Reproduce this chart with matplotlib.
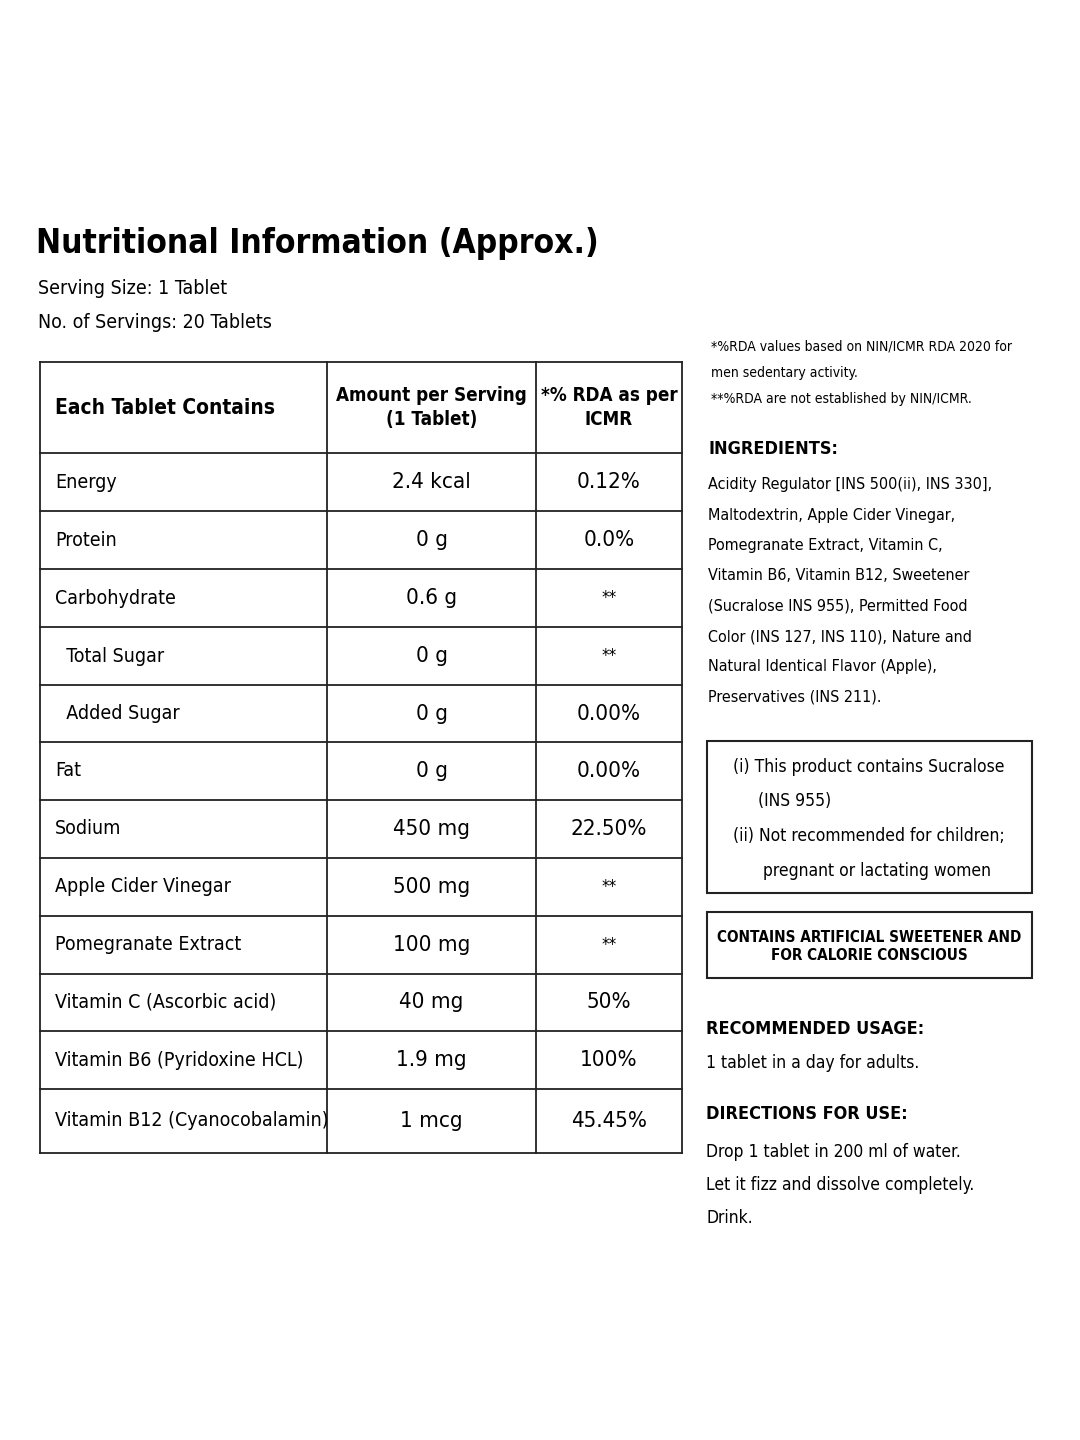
import matplotlib.pyplot as plt
from matplotlib import font_manager

# condensed DejaVu face if present, otherwise shrink a bit more
have_cond = any(f.name == 'DejaVu Sans' and f.stretch in ('condensed', 'semi-condensed', 600, 'semi-expanded') is False or
                ('Condensed' in f.fname and 'DejaVu' in f.fname) for f in font_manager.fontManager.ttflist)
K = 1.0 if have_cond else 0.9
plt.rcParams['font.family'] = ['DejaVu Sans']
plt.rcParams['font.stretch'] = 'condensed'

title = "Nutritional Information (Approx.)"
serving = ["Serving Size: 1 Tablet", "No. of Servings: 20 Tablets"]
headers = ["Each Tablet Contains", "Amount per Serving\n(1 Tablet)", "*% RDA as per\nICMR"]
nutrients = ["Energy", "Protein", "Carbohydrate", "  Total Sugar", "  Added Sugar", "Fat",
             "Sodium", "Apple Cider Vinegar", "Pomegranate Extract",
             "Vitamin C (Ascorbic acid)", "Vitamin B6 (Pyridoxine HCL)",
             "Vitamin B12 (Cyanocobalamin)"]
amounts = ["2.4 kcal", "0 g", "0.6 g", "0 g", "0 g", "0 g", "450 mg", "500 mg",
           "100 mg", "40 mg", "1.9 mg", "1 mcg"]
rda = ["0.12%", "0.0%", "**", "**", "0.00%", "0.00%", "22.50%", "**", "**",
       "50%", "100%", "45.45%"]
row_lines = [453, 511, 569, 627, 685, 742, 800, 858, 916, 974, 1031, 1089, 1153]

notes = ["*%RDA values based on NIN/ICMR RDA 2020 for", "men sedentary activity.",
         "**%RDA are not established by NIN/ICMR."]
ingredients = ["Acidity Regulator [INS 500(ii), INS 330],", "Maltodextrin, Apple Cider Vinegar,",
               "Pomegranate Extract, Vitamin C,", "Vitamin B6, Vitamin B12, Sweetener",
               "(Sucralose INS 955), Permitted Food", "Color (INS 127, INS 110), Nature and",
               "Natural Identical Flavor (Apple),", "Preservatives (INS 211)."]
warnings = ["(i) This product contains Sucralose", "     (INS 955)",
            "(ii) Not recommended for children;", "      pregnant or lactating women"]
directions = ["Drop 1 tablet in 200 ml of water.", "Let it fizz and dissolve completely.", "Drink."]

fig = plt.figure(figsize=(10.8, 14.4), dpi=100)
ax = fig.add_axes([0, 0, 1, 1])
ax.set_xlim(0, 1080)
ax.set_ylim(1440, 0)
ax.axis('off')

ax.text(36, 243, title, fontsize=24 * K, fontweight='bold', va='center')
ax.text(38, 288, serving[0], fontsize=14 * K, va='center')
ax.text(38, 323, serving[1], fontsize=14 * K, va='center')

# table grid
L, C1, C2, R, T = 40, 327, 536, 682, 362
lw = 1.3
for y in [T] + row_lines:
    ax.plot([L, R], [y, y], color='#222', lw=lw)
for x in [L, C1, C2, R]:
    ax.plot([x, x], [T, row_lines[-1]], color='#222', lw=lw)

hy = (T + row_lines[0]) / 2
ax.text(55, hy, headers[0], fontsize=15 * K, fontweight='bold', va='center')
ax.text((C1 + C2) / 2, hy, headers[1], fontsize=13.5 * K, fontweight='bold', va='center', ha='center', linespacing=1.3)
ax.text((C2 + R) / 2, hy, headers[2], fontsize=13.5 * K, fontweight='bold', va='center', ha='center', linespacing=1.3)

for i, (n, a, r) in enumerate(zip(nutrients, amounts, rda)):
    y = (row_lines[i] + row_lines[i + 1]) / 2
    ax.text(55, y, n, fontsize=14 * K, va='center')
    ax.text((C1 + C2) / 2, y, a, fontsize=16 * K, va='center', ha='center')
    ax.text((C2 + R) / 2, y, r, fontsize=16 * K if r != '**' else 12 * K, va='center', ha='center')

# right column
for i, t in enumerate(notes):
    ax.text(711, 347 + i * 26, t, fontsize=10 * K, va='center')
ax.text(709, 449, "INGREDIENTS:", fontsize=13 * K, fontweight='bold', va='center')
for i, t in enumerate(ingredients):
    ax.text(708, 485 + i * 30.3, t, fontsize=11.5 * K, va='center')

ax.add_patch(plt.Rectangle((707, 741), 325, 152, fill=False, lw=1.5, color='#222'))
for i, t in enumerate(warnings):
    ax.text(733, 767 + i * 34.5, t, fontsize=12.5 * K, va='center')

ax.add_patch(plt.Rectangle((707, 912), 325, 66, fill=False, lw=1.5, color='#222'))
ax.text(869, 946, "CONTAINS ARTIFICIAL SWEETENER AND\nFOR CALORIE CONSCIOUS", fontsize=11 * K,
        fontweight='bold', va='center', ha='center', linespacing=1.25)

ax.text(706, 1029, "RECOMMENDED USAGE:", fontsize=13 * K, fontweight='bold', va='center')
ax.text(706, 1063, "1 tablet in a day for adults.", fontsize=12.5 * K, va='center')
ax.text(706, 1114, "DIRECTIONS FOR USE:", fontsize=13 * K, fontweight='bold', va='center')
for i, t in enumerate(directions):
    ax.text(706, 1152 + i * 33, t, fontsize=12.5 * K, va='center')

fig.savefig('out.png', dpi=100, facecolor='white')
